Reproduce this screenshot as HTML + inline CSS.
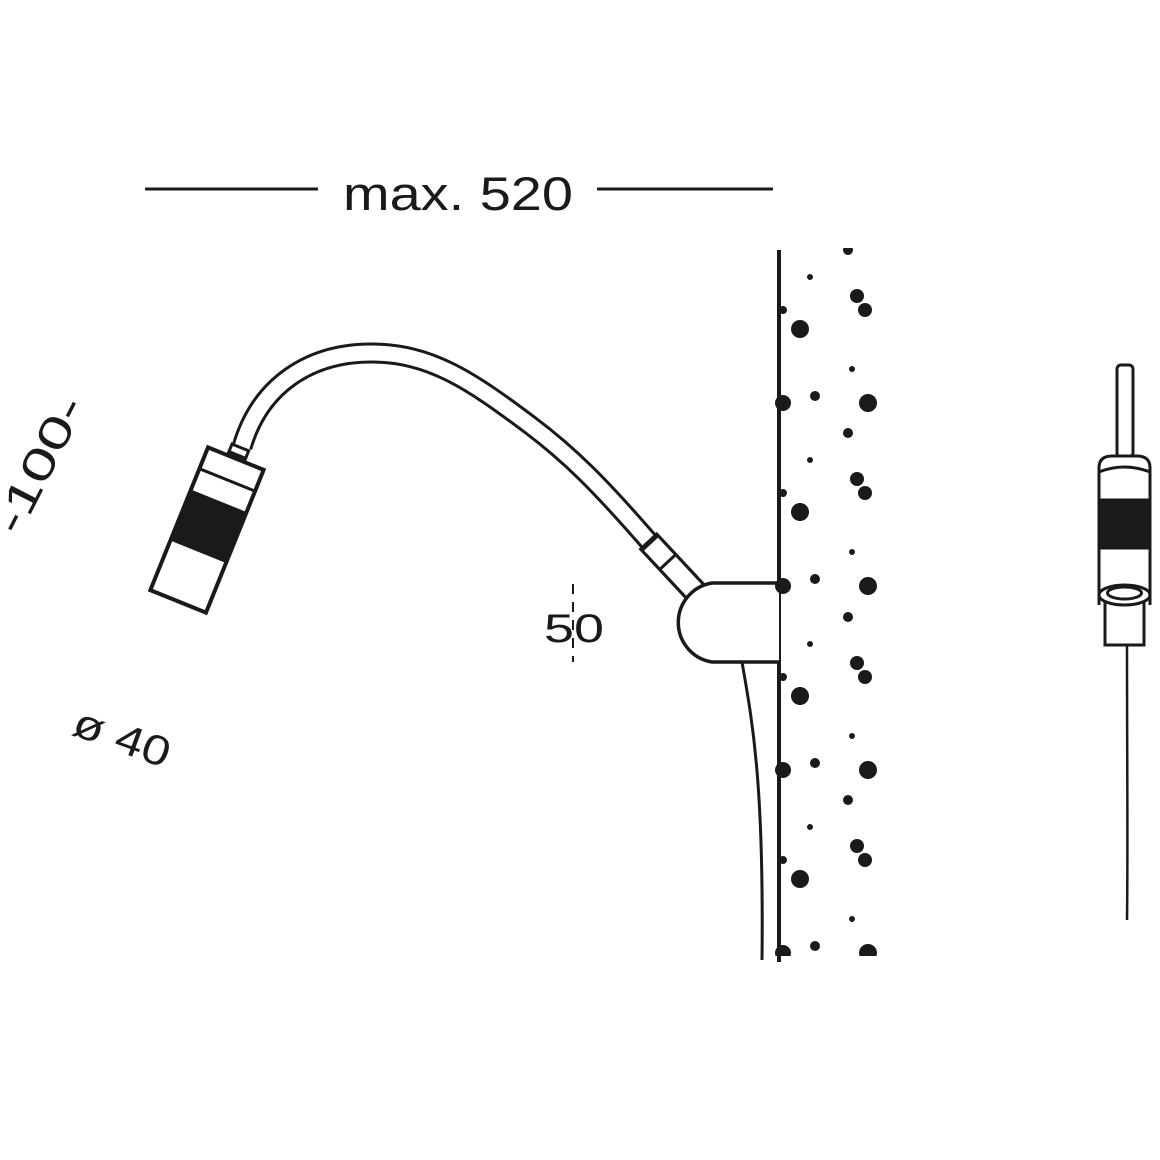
<!DOCTYPE html>
<html><head><meta charset="utf-8"><style>html,body{margin:0;padding:0;background:#fff}svg{display:block}</style></head>
<body>
<svg width="1160" height="1160" viewBox="0 0 1160 1160" xmlns="http://www.w3.org/2000/svg">
<rect width="1160" height="1160" fill="#fff"/>
<g font-family="Liberation Sans, sans-serif" fill="#1a1a1a">
<text x="343" y="210" font-size="47" textLength="230" lengthAdjust="spacingAndGlyphs">max. 520</text>
<text x="544" y="642" font-size="40" textLength="60" lengthAdjust="spacingAndGlyphs">50</text>
<text transform="translate(122,738) rotate(20)" x="-50" y="14" font-size="42" textLength="100" lengthAdjust="spacingAndGlyphs">ø 40</text>
<text transform="translate(40,465) rotate(-63)" x="-74" y="14" font-size="44" textLength="148" lengthAdjust="spacingAndGlyphs">-100-</text>
</g>
<g stroke="#1a1a1a" fill="none" stroke-width="3">
<line x1="145" y1="189" x2="318" y2="189"/>
<line x1="597" y1="189" x2="773" y2="189"/>
<line x1="573" y1="584" x2="573" y2="662" stroke-dasharray="10,8" stroke-width="2"/>
<line x1="779" y1="250" x2="779" y2="962" stroke-width="4"/>
<path d="M742,662 C752,720 764,780 762,960"/>
<path d="M242,447 C260,385 310,353 371,353 C430,353 470,380 530,425 C570,455 600,485 652,545" stroke-width="21"/>
<path d="M242,447 C260,385 310,353 371,353 C430,353 470,380 530,425 C570,455 600,485 652,545" stroke="#fff" stroke-width="15"/>
<g transform="translate(650,543) rotate(47)">
<rect x="-2" y="-11" width="72" height="22" fill="#fff"/>
<line x1="-2" y1="-11" x2="70" y2="-11"/>
<line x1="-2" y1="11" x2="70" y2="11"/>
<line x1="0" y1="-11" x2="0" y2="11"/>
<line x1="26" y1="-11" x2="26" y2="11"/>
</g>
<path d="M779,583 L712,583 A40,40 0 0 0 712,662 L779,662" fill="#fff" stroke-width="3.5"/>
<g transform="translate(207,530) rotate(22)">
<rect x="-9" y="-89" width="18" height="12" fill="#fff"/>
<rect x="-9" y="-81" width="18" height="4" fill="#1a1a1a"/>
<rect x="-30" y="-77" width="60" height="154" fill="#fff" stroke-width="4"/>
<line x1="-30" y1="-54" x2="30" y2="-54"/>
<rect x="-30" y="-30" width="60" height="52" fill="#1a1a1a"/>
</g>
<rect x="1117" y="365" width="16" height="92" rx="4" fill="#fff"/>
<path d="M1099,605 L1099,468 Q1099,456 1112,456 L1137,456 Q1150,456 1150,468 L1150,605" fill="#fff"/>
<path d="M1099,472 Q1124,462 1150,472"/>
<rect x="1099" y="500" width="51" height="48" fill="#1a1a1a"/>
<rect x="1105" y="597" width="39" height="48" fill="#fff"/>
<ellipse cx="1124.5" cy="595" rx="25.5" ry="10" fill="#fff"/>
<ellipse cx="1124.5" cy="593" rx="17" ry="6"/>
<path d="M1127,645 C1127,760 1128,850 1127,920" stroke-width="2.5"/>
</g>
<defs><clipPath id="c"><rect x="775" y="248" width="120" height="708"/></clipPath>
<g id="t" fill="#1a1a1a">
<circle cx="848" cy="0" r="5"/><circle cx="810" cy="27" r="3"/><circle cx="857" cy="46" r="7"/><circle cx="865" cy="60" r="7"/><circle cx="800" cy="79" r="9"/><circle cx="783" cy="60" r="4"/><circle cx="852" cy="119" r="3"/><circle cx="783" cy="153" r="8"/><circle cx="815" cy="146" r="5"/><circle cx="868" cy="153" r="9"/>
</g></defs>
<g clip-path="url(#c)">
<use href="#t" y="250"/><use href="#t" y="433"/><use href="#t" y="617"/><use href="#t" y="800"/><use href="#t" y="984"/>
</g>
</svg>
</body></html>
